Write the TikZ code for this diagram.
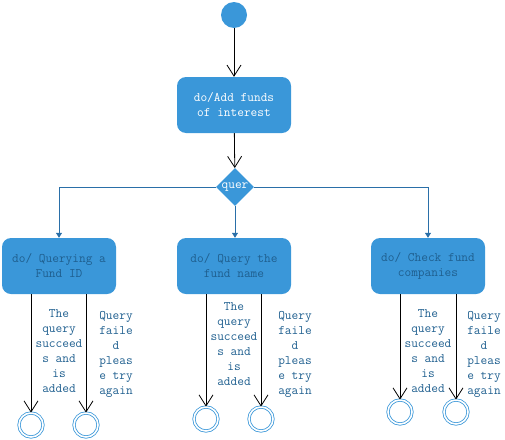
\documentclass[tikz,border=0pt]{standalone}
\usetikzlibrary{arrows.meta,shapes.geometric}
\definecolor{boxblue}{HTML}{3A97D9}
\definecolor{linkblue}{HTML}{2A6FA8}
\definecolor{txtblue}{HTML}{1F5F8F}
\begin{document}
\begin{tikzpicture}[x=1pt,y=-1pt,
  state/.style={draw=none,fill=boxblue,rounded corners=9pt,minimum width=114pt,minimum height=56pt,align=center,font=\ttfamily\fontsize{13}{15}\selectfont,inner sep=0pt},
  lbl/.style={align=center,font=\ttfamily\fontsize{13}{15}\selectfont,text=txtblue,inner sep=0pt},
  finalst/.style={circle,draw=boxblue,line width=0.8pt,minimum size=24pt,inner sep=0pt,double=white,double distance=1.6pt},
  varrow/.style={draw=black,line width=0.8pt,-{Straight Barb[length=11pt,width=14pt,line width=0.8pt]}},
  barrow/.style={draw=linkblue,line width=0.8pt,-{Triangle[length=5pt,width=6pt]}}]
\useasboundingbox (0,0) rectangle (505,439);
\node[circle,fill=boxblue,minimum size=26pt,inner sep=0pt] (start) at (234,15) {};
\node[state,text=white] (top) at (234,105) {do/Add funds\\of interest};
\node[diamond,fill=boxblue,minimum width=38pt,minimum height=38pt,inner sep=0pt,font=\ttfamily\fontsize{13}{15}\selectfont,text=white] (dec) at (235,187) {quer};
\node[state,text=txtblue] (b1) at (59,266) {do/ Querying a\\Fund ID};
\node[state,text=txtblue] (b2) at (234,266) {do/ Query the\\fund name};
\node[state,text=txtblue] (b3) at (428,266) {do/ Check fund\\companies};
\draw[varrow] (start) -- (top);
\draw[varrow] (top) -- (dec);
\draw[barrow] (dec.west) -| (b1.north);
\draw[barrow] (dec.south) -- (dec.south |- b2.north);
\draw[barrow] (dec.east) -| (b3.north);
% finals
\node[finalst] (f1) at (31,425) {};
\node[finalst] (f2) at (86,425) {};
\node[finalst] (f3) at (206,419) {};
\node[finalst] (f4) at (261,419) {};
\node[finalst] (f5) at (400,412) {};
\node[finalst] (f6) at (456,412) {};
\draw[varrow] (b1.south -| f1) -- (f1.north);
\draw[varrow] (b1.south -| f2) -- (f2.north);
\draw[varrow] (b2.south -| f3) -- (f3.north);
\draw[varrow] (b2.south -| f4) -- (f4.north);
\draw[varrow] (b3.south -| f5) -- (f5.north);
\draw[varrow] (b3.south -| f6) -- (f6.north);
\node[lbl,anchor=north] (l1) at (59,309) {The\\query\\succeed\\s and\\is\\added};
\node[lbl,anchor=north] (l2) at (116,311) {Query\\faile\\d\\pleas\\e try\\again};
\node[lbl,anchor=north] (l3) at (234,302) {The\\query\\succeed\\s and\\is\\added};
\node[lbl,anchor=north] (l4) at (295,311) {Query\\faile\\d\\pleas\\e try\\again};
\node[lbl,anchor=north] (l5) at (428,309) {The\\query\\succeed\\s and\\is\\added};
\node[lbl,anchor=north] (l6) at (484,311) {Query\\faile\\d\\pleas\\e try\\again};
\end{tikzpicture}
\end{document}
